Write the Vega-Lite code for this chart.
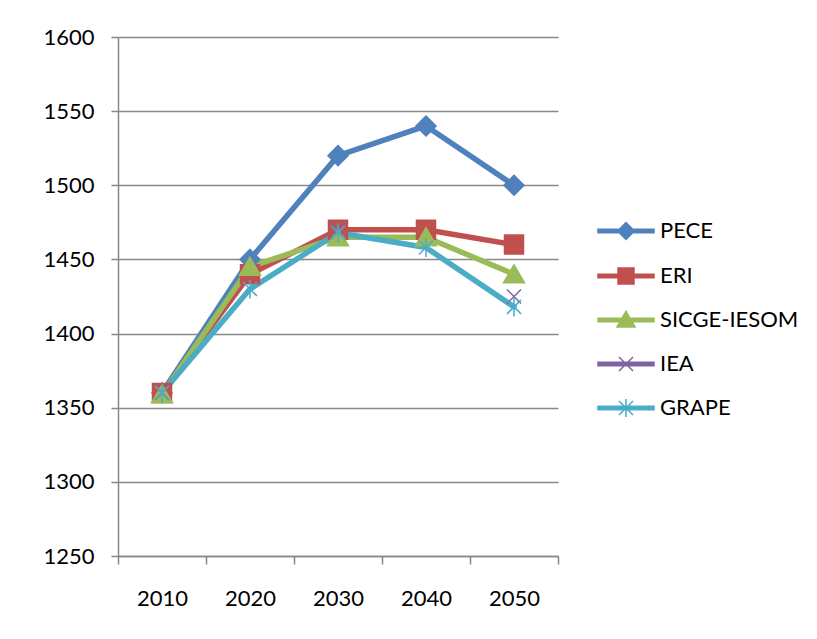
{
  "$schema": "https://vega.github.io/schema/vega-lite/v6.json",
  "autosize": "none",
  "width": 440,
  "height": 519,
  "padding": {"left": 118, "top": 37, "right": 259, "bottom": 83},
  "background": "white",
  "config": {
    "font": "Lato",
    "view": {"stroke": null},
    "axis": {
      "labelFont": "Lato",
      "labelFontSize": 22,
      "labelColor": "black",
      "domainColor": "#878787",
      "domainWidth": 1.5,
      "tickColor": "#878787",
      "tickWidth": 1.5,
      "gridColor": "#878787",
      "gridWidth": 1.5,
      "title": null
    },
    "legend": {
      "title": null,
      "orient": "none",
      "legendX": 493,
      "legendY": 179,
      "padding": 0,
      "symbolSize": 784,
      "symbolStrokeWidth": 1.5,
      "symbolOpacity": 1,
      "symbolFillColor": "#ffffff",
      "labelFont": "Lato",
      "labelFontSize": 22,
      "labelColor": "black",
      "labelOffset": 19,
      "rowPadding": 18
    }
  },
  "data": {
    "values": [
      {"year": "2010", "series": "PECE", "value": 1360},
      {"year": "2020", "series": "PECE", "value": 1450},
      {"year": "2030", "series": "PECE", "value": 1520},
      {"year": "2040", "series": "PECE", "value": 1540},
      {"year": "2050", "series": "PECE", "value": 1500},
      {"year": "2010", "series": "ERI", "value": 1360},
      {"year": "2020", "series": "ERI", "value": 1440},
      {"year": "2030", "series": "ERI", "value": 1470},
      {"year": "2040", "series": "ERI", "value": 1470},
      {"year": "2050", "series": "ERI", "value": 1460},
      {"year": "2010", "series": "SICGE-IESOM", "value": 1359},
      {"year": "2020", "series": "SICGE-IESOM", "value": 1445},
      {"year": "2030", "series": "SICGE-IESOM", "value": 1465},
      {"year": "2040", "series": "SICGE-IESOM", "value": 1465},
      {"year": "2050", "series": "SICGE-IESOM", "value": 1440},
      {"year": "2010", "series": "IEA", "value": 1360},
      {"year": "2030", "series": "IEA", "value": 1470},
      {"year": "2050", "series": "IEA", "value": 1425},
      {"year": "2010", "series": "GRAPE", "value": 1360},
      {"year": "2020", "series": "GRAPE", "value": 1430},
      {"year": "2030", "series": "GRAPE", "value": 1468},
      {"year": "2040", "series": "GRAPE", "value": 1458},
      {"year": "2050", "series": "GRAPE", "value": 1418}
    ]
  },
  "encoding": {
    "x": {
      "field": "year",
      "type": "ordinal",
      "scale": {"paddingInner": 0, "paddingOuter": 0},
      "axis": {"labelAngle": 0, "tickBand": "extent", "tickSize": 8, "labelPadding": 24, "grid": false}
    },
    "y": {
      "field": "value",
      "type": "quantitative",
      "scale": {"domain": [1250, 1600], "nice": false, "zero": false},
      "axis": {"values": [1250, 1300, 1350, 1400, 1450, 1500, 1550, 1600], "format": "d", "tickSize": 7, "labelPadding": 17, "grid": true}
    }
  },
  "resolve": {
    "scale": {"shape": "independent", "stroke": "independent", "fill": "independent"},
    "legend": {"shape": "independent", "stroke": "independent", "fill": "independent"}
  },
  "layer": [
    {
      "transform": [{"filter": "datum.series !== 'IEA'"}],
      "mark": {"type": "line", "strokeWidth": 5.5, "strokeCap": "round", "strokeJoin": "round"},
      "encoding": {
        "color": {
          "field": "series", "type": "nominal", "legend": null,
          "scale": {"domain": ["PECE", "ERI", "SICGE-IESOM", "IEA", "GRAPE"], "range": ["#4F81BD", "#C0504D", "#9BBB59", "#8064A2", "#4BACC6"]}
        },
        "detail": {"field": "series"}
      }
    },
    {
      "mark": {"type": "point", "filled": true, "opacity": 1, "size": 400, "strokeWidth": 1.5},
      "encoding": {
        "color": {"field": "series", "type": "nominal", "legend": null},
        "stroke": {
          "field": "series", "type": "nominal", "legend": null,
          "scale": {"domain": ["PECE", "ERI", "SICGE-IESOM", "IEA", "GRAPE"], "range": ["#4F81BD", "#C0504D", "#9BBB59", "#8064A2", "#4BACC6"]}
        },
        "shape": {
          "field": "series", "type": "nominal", "legend": null,
          "scale": {
            "domain": ["PECE", "ERI", "SICGE-IESOM", "IEA", "GRAPE"],
            "range": [
              "M0,-1L1,0L0,1L-1,0Z",
              "M-0.95,-0.95H0.95V0.95H-0.95Z",
              "M0,-0.95L1.05,0.85H-1.05Z",
              "M-0.7,-0.7L0.7,0.7M0.7,-0.7L-0.7,0.7",
              "M-0.7,-0.7L0.7,0.7M0.7,-0.7L-0.7,0.7M0,-0.95L0,0.95"
            ]
          }
        }
      }
    },
    {
      "transform": [{"filter": "false"}],
      "mark": {"type": "point", "filled": true},
      "encoding": {
        "fill": {
          "field": "series", "type": "nominal", "legend": {},
          "scale": {"domain": ["PECE", "ERI", "SICGE-IESOM", "IEA", "GRAPE"], "range": ["#4F81BD", "#C0504D", "#9BBB59", "#8064A2", "#4BACC6"]}
        },
        "stroke": {
          "field": "series", "type": "nominal", "legend": {},
          "scale": {"domain": ["PECE", "ERI", "SICGE-IESOM", "IEA", "GRAPE"], "range": ["#4F81BD", "#C0504D", "#9BBB59", "#8064A2", "#4BACC6"]}
        },
        "shape": {
          "field": "series", "type": "nominal", "legend": {},
          "scale": {
            "domain": ["PECE", "ERI", "SICGE-IESOM", "IEA", "GRAPE"],
            "range": [
              "M-2,-0.13H2V0.13H-2ZM0,-0.6L0.6,0L0,0.6L-0.6,0Z",
              "M-2,-0.13H2V0.13H-2ZM-0.57,-0.57H0.57V0.57H-0.57Z",
              "M-2,-0.13H2V0.13H-2ZM0,-0.62L0.65,0.5H-0.65Z",
              "M-2,-0.13H2V0.13H-2ZM-0.5,-0.5L0.5,0.5M0.5,-0.5L-0.5,0.5",
              "M-2,-0.13H2V0.13H-2ZM-0.5,-0.5L0.5,0.5M0.5,-0.5L-0.5,0.5M0,-0.65L0,0.65"
            ]
          }
        }
      }
    }
  ]
}
